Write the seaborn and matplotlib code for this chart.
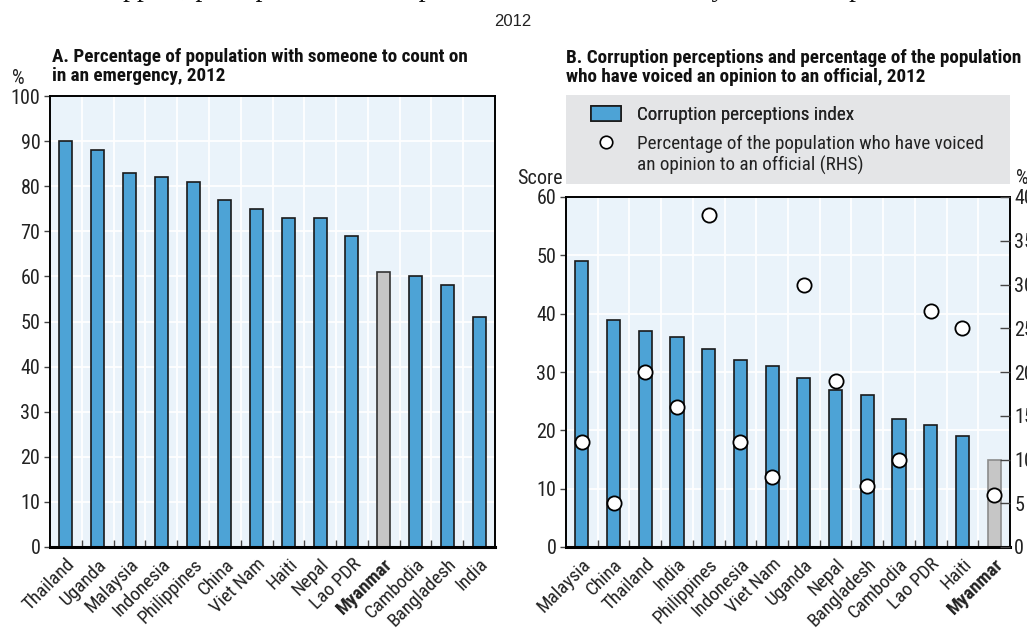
import matplotlib
matplotlib.use("Agg")
import matplotlib.pyplot as plt
from matplotlib import font_manager
from matplotlib.lines import Line2D
from matplotlib.patches import Patch, Rectangle
import numpy as np
import pandas as pd
import seaborn as sns

# Panel A: someone to count on in an emergency (%)
support_countries = ["Thailand", "Uganda", "Malaysia", "Indonesia", "Philippines", "China",
                     "Viet Nam", "Haiti", "Nepal", "Lao PDR", "Myanmar", "Cambodia",
                     "Bangladesh", "India"]
support_pct = [90, 88, 83, 82, 81, 77, 75, 73, 73, 69, 61, 60, 58, 51]

# Panel B: corruption perceptions index (score) and voiced opinion (%, RHS)
cpi_countries = ["Malaysia", "China", "Thailand", "India", "Philippines", "Indonesia",
                 "Viet Nam", "Uganda", "Nepal", "Bangladesh", "Cambodia", "Lao PDR",
                 "Haiti", "Myanmar"]
cpi_score = [49, 39, 37, 36, 34, 32, 31, 29, 27, 26, 22, 21, 19, 15]
voiced_pct = [12, 5, 20, 16, 38, 12, 8, 30, 19, 7, 10, 27, 25, 6]

highlight = "Myanmar"

BLUE = "#4DA3D6"
GREY_BAR = "#C6C6C6"
PANEL_BG = "#EAF3FA"
LEGEND_BG = "#E4E5E7"

sns.set_theme(style="white")
installed = {f.name for f in font_manager.fontManager.ttflist}
if "Roboto Condensed" in installed:
    base_font = "Roboto Condensed"
elif "Liberation Sans Narrow" in installed:
    base_font = "Liberation Sans Narrow"
else:
    base_font = "DejaVu Sans"
plt.rcParams["font.family"] = [base_font, "DejaVu Sans"]
plt.rcParams["axes.linewidth"] = 1.6

W, H = 1027, 638
fig = plt.figure(figsize=(W / 100, H / 100), dpi=100)

TICK_FS = 14.5
XLAB_FS = 13.8
TITLE_FS = 13.8
LEG_FS = 13.8


def px_axes(left, top, right, bottom):
    return fig.add_axes([left / W, 1 - bottom / H, (right - left) / W, (bottom - top) / H])


def fx(x):
    return x / W


def fy(y):
    return 1 - y / H


def style_panel(ax, countries, ymax, ystep):
    n = len(countries)
    ax.set_facecolor(PANEL_BG)
    ax.set_xlim(-0.5, n - 0.5)
    ax.set_ylim(0, ymax)
    ax.set_yticks(np.arange(0, ymax + 1, ystep))
    ax.set_xticks(np.arange(n))
    ax.set_xticks(np.arange(n - 1) + 0.5, minor=True)
    ax.set_xticklabels(countries, rotation=45, ha="right", rotation_mode="anchor",
                       fontsize=XLAB_FS, color="#222222")
    for lab in ax.get_xticklabels():
        if lab.get_text() == highlight:
            lab.set_fontweight("bold")
    ax.tick_params(axis="x", which="major", length=0, pad=6)
    ax.tick_params(axis="x", which="minor", direction="in", length=5, width=1,
                   color="#444444", bottom=True)
    ax.tick_params(axis="y", direction="out", length=4, width=1, color="#444444",
                   labelsize=TICK_FS, labelcolor="#222222", pad=3, left=True)
    ax.set_axisbelow(True)
    ax.grid(axis="y", which="major", color="white", linewidth=1.3)
    ax.grid(axis="x", which="minor", color="white", linewidth=1.3)
    ax.grid(axis="x", which="major", visible=False)
    for side in ["top", "right", "left"]:
        ax.spines[side].set_color("black")
        ax.spines[side].set_linewidth(1.4)
    ax.spines["bottom"].set_color("black")
    ax.spines["bottom"].set_linewidth(2.2)
    ax.set_xlabel("")
    ax.set_ylabel("")


def draw_bars(ax, countries, values, hl_edge):
    df = pd.DataFrame({"country": countries, "value": values})
    palette = {c: (GREY_BAR if c == highlight else BLUE) for c in countries}
    sns.barplot(data=df, x="country", y="value", hue="country", palette=palette,
                order=countries, hue_order=countries, legend=False, width=0.41,
                saturation=1, edgecolor="#1a1a1a", linewidth=1.2, ax=ax)
    for patch, c in zip(ax.patches, countries):
        if c == highlight:
            patch.set_edgecolor(hl_edge)


# ---- Panel A ----
axA = px_axes(50, 96, 495, 547)
draw_bars(axA, support_countries, support_pct, "#333333")
style_panel(axA, support_countries, 100, 10)
fig.text(fx(52), fy(57), "A. Percentage of population with someone to count on",
         fontsize=TITLE_FS, fontweight="bold", ha="left", va="center", color="#111111")
fig.text(fx(52), fy(76), "in an emergency, 2012",
         fontsize=TITLE_FS, fontweight="bold", ha="left", va="center", color="#111111")
fig.text(fx(18), fy(78), "%", fontsize=TICK_FS, ha="center", va="center", color="#222222")

# ---- Panel B ----
axB = px_axes(566, 197, 1010, 547)
draw_bars(axB, cpi_countries, cpi_score, "#8C8C8C")
style_panel(axB, cpi_countries, 60, 10)

axR = axB.twinx()
pts = pd.DataFrame({"pos": np.arange(len(cpi_countries)), "voiced": voiced_pct})
sns.scatterplot(data=pts, x="pos", y="voiced", ax=axR, s=105, color="white",
                edgecolor="black", linewidth=1.3, zorder=5, legend=False)
axR.set_ylim(0, 40)
axR.set_yticks(np.arange(0, 41, 5))
axR.set_ylabel("")
axR.set_xlabel("")
axR.tick_params(axis="y", direction="in", length=7, width=1, color="#444444",
                labelsize=TICK_FS, labelcolor="#222222", pad=3, right=True)
for side in ["top", "right", "left", "bottom"]:
    axR.spines[side].set_visible(False)
axR.set_xlim(axB.get_xlim())

fig.text(fx(566), fy(58), "B. Corruption perceptions and percentage of the population",
         fontsize=TITLE_FS, fontweight="bold", ha="left", va="center", color="#111111")
fig.text(fx(566), fy(77), "who have voiced an opinion to an official, 2012",
         fontsize=TITLE_FS, fontweight="bold", ha="left", va="center", color="#111111")
fig.text(fx(563), fy(178), "Score", fontsize=TICK_FS, ha="right", va="center", color="#222222")
fig.text(fx(1016), fy(178), "%", fontsize=TICK_FS, ha="left", va="center", color="#222222")

# Legend: grey band above panel B, entries laid over it
fig.patches.append(Rectangle((fx(566), fy(184)), fx(1010) - fx(566), fy(95) - fy(184),
                             transform=fig.transFigure, facecolor=LEGEND_BG,
                             edgecolor="none", zorder=0))
leg_px = LEG_FS * 100 / 72
leg_kw = dict(loc="upper left", bbox_transform=fig.transFigure, frameon=False,
              fontsize=LEG_FS, handlelength=30 / leg_px, handleheight=15 / leg_px,
              handletextpad=16 / leg_px, borderpad=0, borderaxespad=0)

bar_handle = Patch(facecolor=BLUE, edgecolor="#1a1a1a", linewidth=1.2)
dot_handle = Line2D([], [], marker="o", linestyle="none", markersize=9,
                    markerfacecolor="white", markeredgecolor="black", markeredgewidth=1.2)
blank_handle = Line2D([], [], linestyle="none")

leg1 = fig.legend([bar_handle], ["Corruption perceptions index"],
                  bbox_to_anchor=(fx(591), fy(106)), labelspacing=0.45, **leg_kw)
fig.add_artist(leg1)
leg2 = fig.legend([dot_handle, blank_handle],
                  ["Percentage of the population who have voiced",
                   "an opinion to an official (RHS)"],
                  bbox_to_anchor=(fx(591), fy(135)), labelspacing=0.14, **leg_kw)
for lg in (leg1, leg2):
    for t in lg.get_texts():
        t.set_color("#222222")

# ---- Figure heading (sits mostly above the top edge) ----
fig.text(0.5, 1 + 4 / H, "Social support, perceptions of corruption and civic voice in Myanmar and peer countries",
         family=["Liberation Serif", "DejaVu Serif"], fontsize=20,
         ha="center", va="baseline", color="#111111")
fig.text(fx(513), fy(22), "2012", family=["Liberation Sans", "DejaVu Sans"], fontsize=12,
         ha="center", va="center", color="#222222")

fig.savefig("out.png", dpi=100)
